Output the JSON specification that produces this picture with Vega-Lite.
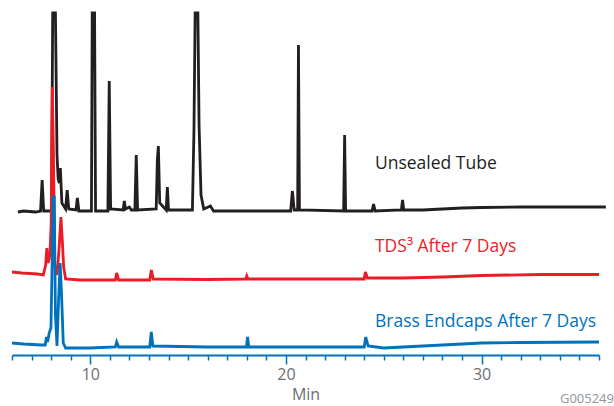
{
  "$schema": "https://vega.github.io/schema/vega-lite/v6.json",
  "width": 587,
  "height": 342,
  "autosize": "none",
  "padding": {"left": 12, "top": 13, "right": 15, "bottom": 51},
  "background": "white",
  "config": {"view": {"stroke": null}, "font": "Open Sans"},
  "resolve": {"axis": {"x": "independent"}},
  "datasets": {
    "black": [
      {"t": 6.3, "v": 143}, {"t": 6.6, "v": 144}, {"t": 7.2, "v": 143}, {"t": 7.46, "v": 144}, {"t": 7.54, "v": 175}, {"t": 7.62, "v": 144},
      {"t": 8.02, "v": 144}, {"t": 8.08, "v": 342}, {"t": 8.22, "v": 342}, {"t": 8.3, "v": 200}, {"t": 8.36, "v": 176},
      {"t": 8.42, "v": 172}, {"t": 8.47, "v": 187}, {"t": 8.55, "v": 152}, {"t": 8.74, "v": 146}, {"t": 8.82, "v": 165},
      {"t": 8.9, "v": 146}, {"t": 9.27, "v": 145}, {"t": 9.34, "v": 157}, {"t": 9.42, "v": 144}, {"t": 10.06, "v": 144},
      {"t": 10.1, "v": 342}, {"t": 10.22, "v": 342}, {"t": 10.27, "v": 144}, {"t": 10.9, "v": 144}, {"t": 10.97, "v": 274},
      {"t": 11.04, "v": 146}, {"t": 11.68, "v": 145}, {"t": 11.74, "v": 154}, {"t": 11.8, "v": 146}, {"t": 12.0, "v": 148},
      {"t": 12.1, "v": 145}, {"t": 12.28, "v": 145}, {"t": 12.35, "v": 200}, {"t": 12.42, "v": 145}, {"t": 13.37, "v": 146},
      {"t": 13.43, "v": 196}, {"t": 13.48, "v": 209}, {"t": 13.55, "v": 152}, {"t": 13.88, "v": 145}, {"t": 13.94, "v": 168},
      {"t": 14.0, "v": 145}, {"t": 15.22, "v": 145}, {"t": 15.3, "v": 225}, {"t": 15.36, "v": 342}, {"t": 15.5, "v": 342},
      {"t": 15.56, "v": 230}, {"t": 15.66, "v": 160}, {"t": 15.8, "v": 146}, {"t": 16.14, "v": 149}, {"t": 16.3, "v": 144},
      {"t": 18.0, "v": 144}, {"t": 20.24, "v": 144}, {"t": 20.33, "v": 164}, {"t": 20.42, "v": 145}, {"t": 20.6, "v": 145},
      {"t": 20.64, "v": 310}, {"t": 20.69, "v": 145}, {"t": 22.95, "v": 144}, {"t": 23.0, "v": 220}, {"t": 23.05, "v": 144},
      {"t": 24.4, "v": 144}, {"t": 24.48, "v": 151}, {"t": 24.56, "v": 144}, {"t": 25.9, "v": 145}, {"t": 25.96, "v": 155},
      {"t": 26.02, "v": 145}, {"t": 27.0, "v": 145}, {"t": 28.0, "v": 146}, {"t": 29.0, "v": 147}, {"t": 30.0, "v": 147.5},
      {"t": 32.0, "v": 148}, {"t": 34.0, "v": 148}, {"t": 36.35, "v": 148}
    ],
    "red": [
      {"t": 6.0, "v": 83}, {"t": 6.5, "v": 82}, {"t": 7.3, "v": 81}, {"t": 7.6, "v": 80}, {"t": 7.72, "v": 90},
      {"t": 7.78, "v": 107}, {"t": 7.84, "v": 92}, {"t": 7.9, "v": 96}, {"t": 7.94, "v": 102}, {"t": 8.0, "v": 130},
      {"t": 8.06, "v": 268}, {"t": 8.12, "v": 200}, {"t": 8.18, "v": 90}, {"t": 8.3, "v": 80}, {"t": 8.4, "v": 105},
      {"t": 8.5, "v": 138}, {"t": 8.57, "v": 115}, {"t": 8.64, "v": 88}, {"t": 8.74, "v": 76}, {"t": 9.5, "v": 75},
      {"t": 11.28, "v": 75}, {"t": 11.35, "v": 82}, {"t": 11.45, "v": 75}, {"t": 13.04, "v": 75}, {"t": 13.12, "v": 85},
      {"t": 13.22, "v": 76}, {"t": 16.0, "v": 75.5}, {"t": 17.95, "v": 76}, {"t": 18.0, "v": 79}, {"t": 18.06, "v": 76},
      {"t": 24.0, "v": 76}, {"t": 24.06, "v": 83}, {"t": 24.16, "v": 77}, {"t": 26.0, "v": 77}, {"t": 28.0, "v": 78},
      {"t": 30.0, "v": 79.5}, {"t": 33.0, "v": 80.5}, {"t": 36.0, "v": 80.5}
    ],
    "blue": [
      {"t": 6.0, "v": 12}, {"t": 6.6, "v": 11}, {"t": 7.5, "v": 10}, {"t": 7.7, "v": 10}, {"t": 7.76, "v": 18},
      {"t": 7.82, "v": 13}, {"t": 7.9, "v": 22}, {"t": 7.99, "v": 27}, {"t": 8.04, "v": 80}, {"t": 8.1, "v": 158},
      {"t": 8.16, "v": 158}, {"t": 8.22, "v": 40}, {"t": 8.3, "v": 9}, {"t": 8.38, "v": 55}, {"t": 8.46, "v": 92},
      {"t": 8.53, "v": 62}, {"t": 8.62, "v": 12}, {"t": 8.74, "v": 7}, {"t": 10.0, "v": 7}, {"t": 11.28, "v": 8},
      {"t": 11.35, "v": 13}, {"t": 11.45, "v": 8}, {"t": 13.04, "v": 8}, {"t": 13.12, "v": 23}, {"t": 13.2, "v": 9},
      {"t": 16.0, "v": 8}, {"t": 17.98, "v": 8}, {"t": 18.04, "v": 18}, {"t": 18.1, "v": 8}, {"t": 24.0, "v": 8},
      {"t": 24.08, "v": 18}, {"t": 24.2, "v": 9}, {"t": 25.0, "v": 7}, {"t": 26.0, "v": 8}, {"t": 28.0, "v": 10},
      {"t": 30.0, "v": 12}, {"t": 32.0, "v": 12.5}, {"t": 36.0, "v": 13}
    ],
    "labels": [
      {"t": 24.55, "v": 191, "label": "Unsealed Tube", "c": "black"},
      {"t": 24.55, "v": 108, "label": "TDS³ After 7 Days", "c": "red"},
      {"t": 24.55, "v": 33, "label": "Brass Endcaps After 7 Days", "c": "blue"}
    ],
    "code": [
      {"t": 36, "v": -44, "label": "G005249"}
    ]
  },
  "layer": [
    {
      "data": {"name": "black"},
      "mark": {"type": "line", "color": "#231f20", "strokeWidth": 2.8, "clip": false},
      "encoding": {
        "x": {
          "field": "t", "type": "quantitative",
          "scale": {"domain": [6, 36], "nice": false, "zero": false},
          "axis": {
            "orient": "bottom",
            "values": [10, 20, 30],
            "format": "d",
            "labelOverlap": false,
            "tickSize": 9,
            "domainColor": "#0072bc", "domainWidth": 2,
            "tickColor": "#0072bc", "tickWidth": 1.5,
            "labelColor": "#6d6e71", "labelFontSize": 16, "labelFont": "Open Sans",
            "labelPadding": 2, "labelFlush": false,
            "grid": false,
            "title": "Min", "titleColor": "#6d6e71", "titleFontSize": 16, "titleFontWeight": "normal",
            "titleFont": "Open Sans", "titlePadding": 4
          }
        },
        "y": {"field": "v", "type": "quantitative", "scale": {"domain": [0, 342], "nice": false, "zero": false}, "axis": null}
      }
    },
    {
      "data": {"name": "red"},
      "mark": {"type": "line", "color": "#ed1c24", "strokeWidth": 2.8, "clip": true},
      "encoding": {
        "x": {
          "field": "t", "type": "quantitative",
          "axis": {
            "orient": "bottom",
            "values": [6,7,8,9,11,12,13,14,15,16,17,18,19,21,22,23,24,25,26,27,28,29,31,32,33,34,35,36],
            "labels": false, "domain": false, "grid": false, "title": null,
            "tickSize": 5, "tickColor": "#0072bc", "tickWidth": 1.5
          }
        },
        "y": {"field": "v", "type": "quantitative"}
      }
    },
    {
      "data": {"name": "blue"},
      "mark": {"type": "line", "color": "#0072bc", "strokeWidth": 2.8, "clip": true},
      "encoding": {
        "x": {"field": "t", "type": "quantitative", "axis": null},
        "y": {"field": "v", "type": "quantitative"}
      }
    },
    {
      "data": {"name": "labels"},
      "mark": {"type": "text", "align": "left", "baseline": "middle", "fontSize": 17.5, "font": "Open Sans"},
      "encoding": {
        "x": {"field": "t", "type": "quantitative", "axis": null},
        "y": {"field": "v", "type": "quantitative"},
        "text": {"field": "label"},
        "color": {"field": "c", "type": "nominal", "scale": {"domain": ["black", "red", "blue"], "range": ["#231f20", "#ed1c24", "#0072bc"]}, "legend": null}
      }
    },
    {
      "data": {"name": "code"},
      "mark": {"type": "text", "align": "right", "baseline": "middle", "fontSize": 13, "font": "Open Sans", "color": "#939598", "dx": 15},
      "encoding": {
        "x": {"field": "t", "type": "quantitative", "axis": null},
        "y": {"field": "v", "type": "quantitative"},
        "text": {"field": "label"}
      }
    }
  ]
}
